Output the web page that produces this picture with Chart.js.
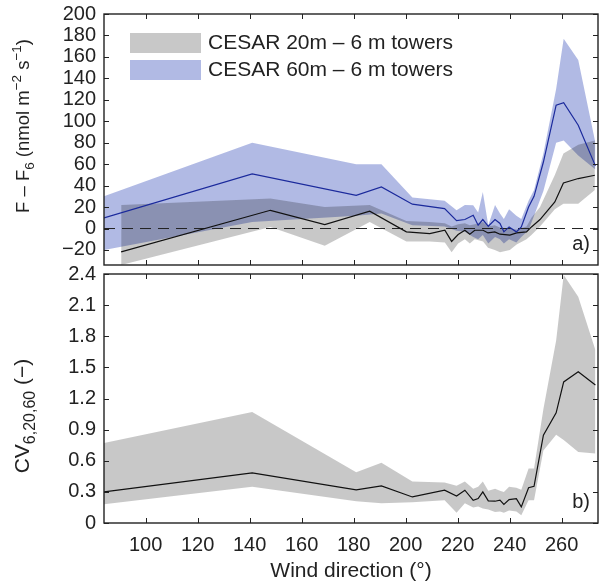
<!DOCTYPE html>
<html><head><meta charset="utf-8">
<script src="https://cdn.jsdelivr.net/npm/chart.js@4.4.0/dist/chart.umd.min.js"></script>
<style>
html,body{margin:0;padding:0;background:#fff;}
#wrap{position:relative;width:600px;height:586px;overflow:hidden;}
#w1{position:absolute;left:0;top:0;width:600px;height:268px;}
#w2{position:absolute;left:0;top:258px;width:600px;height:328px;}
</style></head><body>
<div id="wrap"><div id="w1"><canvas id="c1" width="600" height="268"></canvas></div><div id="w2"><canvas id="c2" width="600" height="328"></canvas></div></div>
<script>
// ---------- data ----------
const xRange = [84, 274];
const xTicks = [100, 120, 140, 160, 180, 200, 220, 240, 260];
const yTicksA = [-20, 0, 20, 40, 60, 80, 100, 120, 140, 160, 180, 200];
const yTicksB = [0, 0.3, 0.6, 0.9, 1.2, 1.5, 1.8, 2.1, 2.4];

// CESAR 20m - 6 m towers (wind direction samples)
const dir20 = [90.6, 148, 168.9, 186.2, 200.3, 209.3, 215.1, 217.7, 220.2, 222.8, 224.7, 226.6, 229.8, 231.7, 234.3, 236.3, 240.1, 242.7, 246.5, 248.4, 251.7, 257.4, 260.7, 266.4, 272.8];
const line20 = [-21.8, 17, 3.7, 16.1, -3.1, -4.7, -1.6, -12, -5.6, -1.6, -5.3, -1.6, -1.6, -4.1, -3.1, -5.3, -6.2, -4.1, -3.1, 1.5, 8.4, 24.8, 42.5, 46.6, 49.7];
const up20 = [22, 28, 20, 22, 7, 6, 5, 2, 4, 5, 3, 4, 6, 2, 3, 1, 0, -1, 2, 10, 20, 50, 70, 78, 82];
const lo20 = [-34, 1.5, -16, 6, -12, -12, -13, -22, -14, -10, -14, -10, -12, -18, -20, -22, -20, -15, -10, -6, 2, 18, 23, 23, 36];

// CESAR 60m - 6 m towers
const dir60 = [84, 141, 181, 190.7, 202.6, 215, 219.6, 222.8, 226, 227.9, 229.7, 231.8, 234.4, 236.3, 237.8, 239.8, 242.6, 244.5, 247.3, 249.4, 253, 257.9, 260.8, 266.4, 273];
const line60 = [10, 51, 31, 38.8, 22.7, 18.6, 7.4, 8.4, 12.4, 3.1, 8.4, 2.1, 8.4, 4.7, -3.1, 1.5, -3.1, 1.5, 20, 30, 62, 115, 117.4, 96.3, 58.4];
const up60 = [30, 80, 60, 60, 29, 26, 17, 22, 21.7, 15, 34, 3, 22, 14, 9, 18, 12, 9, 26, 36, 70, 130, 177, 157, 80];
const lo60 = [-20, 6, 12, 14, 3, 2, -2, -3, -8, -10, -6, -14, -8, -10, -14, -10, -13, -8, -1.6, 12, 35, 80, 82, 68, 55];

// CV 6,20,60
const cvLine = [0.30, 0.483, 0.32, 0.357, 0.251, 0.316, 0.26, 0.316, 0.219, 0.235, 0.30, 0.213, 0.21, 0.22, 0.18, 0.225, 0.235, 0.155, 0.34, 0.354, 0.847, 1.062, 1.36, 1.458, 1.33];
const cvUp = [0.77, 1.07, 0.49, 0.58, 0.40, 0.39, 0.36, 0.40, 0.33, 0.35, 0.40, 0.31, 0.33, 0.31, 0.30, 0.35, 0.34, 0.32, 0.525, 0.525, 1.1, 1.76, 2.39, 2.18, 1.667];
const cvLo = [0.18, 0.35, 0.21, 0.19, 0.20, 0.22, 0.10, 0.19, 0.15, 0.16, 0.14, 0.13, 0.105, 0.11, 0.10, 0.12, 0.11, 0.074, 0.22, 0.22, 0.70, 0.85, 0.80, 0.685, 0.67];

const legendLabels = ['CESAR 20m \u2013 6 m towers', 'CESAR 60m \u2013 6 m towers'];

// ---------- styling ----------
const FONT = "'Liberation Sans', Arial, Helvetica, sans-serif";
const TXT = '#222';
const GRAY_FILL = 'rgba(0,0,0,0.215)';
const BLUE_FILL = 'rgba(70,90,190,0.42)';
const pts = (xs, ys) => xs.map((x, i) => ({x, y: ys[i]}));
const fmt = v => (v < 0 ? '\u2212' + Math.abs(v) : String(v));

function drawRich(ctx, segs, cx, cy) {
  ctx.save();
  ctx.translate(cx, cy);
  ctx.rotate(-Math.PI / 2);
  let total = 0;
  segs.forEach(s => { ctx.font = s.size + 'px ' + FONT; s.w = ctx.measureText(s.t).width; total += s.w; });
  let x = -total / 2;
  ctx.fillStyle = TXT;
  ctx.textBaseline = 'alphabetic';
  ctx.textAlign = 'left';
  segs.forEach(s => { ctx.font = s.size + 'px ' + FONT; ctx.fillText(s.t, x, s.dy); x += s.w; });
  ctx.restore();
}

const framePlugin = {
  id: 'frame',
  afterDatasetsDraw(chart, args, opts) {
    const {ctx, chartArea: a, scales} = chart;
    const xs = scales.x, ys = scales.y;
    ctx.save();
    ctx.strokeStyle = '#222';
    ctx.lineWidth = 1;
    const L = 5;
    ctx.beginPath();
    xTicks.forEach(v => {
      const p = Math.round(xs.getPixelForValue(v)) + 0.5;
      ctx.moveTo(p, a.bottom); ctx.lineTo(p, a.bottom - L);
      ctx.moveTo(p, a.top); ctx.lineTo(p, a.top + L);
    });
    opts.yt.forEach(v => {
      const p = Math.round(ys.getPixelForValue(v)) + 0.5;
      ctx.moveTo(a.left, p); ctx.lineTo(a.left + L, p);
      ctx.moveTo(a.right, p); ctx.lineTo(a.right - L, p);
    });
    ctx.stroke();
    ctx.lineWidth = 1.4;
    ctx.strokeRect(a.left, a.top, a.right - a.left, a.bottom - a.top);
    // panel label
    ctx.fillStyle = TXT;
    ctx.font = '20px ' + FONT;
    ctx.textAlign = 'right';
    ctx.textBaseline = 'middle';
    ctx.fillText(opts.panel, a.right - 8, a.bottom - opts.panelDy);
    // y-axis title
    drawRich(ctx, opts.title, opts.titleX, opts.titleY);
    // legend
    if (opts.legend) {
      const items = [[GRAY_FILL, legendLabels[0]], [BLUE_FILL, legendLabels[1]]];
      items.forEach((it, i) => {
        const y = 33 + i * 27;
        ctx.fillStyle = it[0];
        ctx.fillRect(130, y, 71, 20);
        ctx.fillStyle = TXT;
        ctx.font = '21px ' + FONT;
        ctx.textAlign = 'left';
        ctx.textBaseline = 'middle';
        ctx.fillText(it[1], 208, y + 10.5);
      });
    }
    ctx.restore();
  }
};

function yScale(min, max, ticks, width) {
  return {
    type: 'linear', min, max,
    afterBuildTicks: s => { s.ticks = ticks.map(v => ({value: v})); },
    afterFit: s => { s.width = width; s.paddingTop = 0; s.paddingBottom = 0; },
    grid: {display: false, drawTicks: false},
    border: {display: false},
    ticks: {color: TXT, padding: 8, autoSkip: false, font: {family: FONT, size: 20}, callback: v => fmt(v)}
  };
}

const lineDs = (data, color, order) => ({data, borderColor: color, borderWidth: 1.2, pointRadius: 0, fill: false, tension: 0, order});
const bandUp = (data, color, order) => ({data, borderWidth: 0, borderColor: 'rgba(0,0,0,0)', backgroundColor: color, pointRadius: 0, fill: '+1', tension: 0, order});
const bandLo = (data, order) => ({data, borderWidth: 0, borderColor: 'rgba(0,0,0,0)', pointRadius: 0, fill: false, tension: 0, order});

// ---------- panel a ----------
new Chart(document.getElementById('c1'), {
  type: 'line',
  data: {
    datasets: [
      lineDs(pts(dir60, line60), '#1b2a9c', 0),
      lineDs(pts(dir20, line20), '#111', 1),
      Object.assign(lineDs(pts(xRange, [0, 0]), '#222', 2), {borderDash: [11, 7], borderWidth: 1}),
      bandUp(pts(dir20, up20), GRAY_FILL, 3),
      bandLo(pts(dir20, lo20), 4),
      bandUp(pts(dir60, up60), BLUE_FILL, 5),
      bandLo(pts(dir60, lo60), 6)
    ]
  },
  options: {
    responsive: false, animation: false, devicePixelRatio: 1,
    layout: {padding: {top: 14, right: 2, bottom: 3, left: 0}},
    plugins: {
      legend: {display: false}, tooltip: {enabled: false},
      frame: {
        yt: yTicksA, panel: 'a)', panelDy: 21, legend: true,
        titleX: 29, titleY: 126,
        title: [
          {t: 'F \u2013 F', size: 18.5, dy: 0}, {t: '6', size: 13.5, dy: 5},
          {t: ' (nmol m', size: 18.5, dy: 0}, {t: '\u22122', size: 13.5, dy: -8},
          {t: ' s', size: 18.5, dy: 0}, {t: '\u22121', size: 13.5, dy: -8},
          {t: ')', size: 18.5, dy: 0}
        ]
      }
    },
    scales: {
      x: {type: 'linear', min: xRange[0], max: xRange[1], display: false},
      y: yScale(-34, 200, yTicksA, 104)
    }
  },
  plugins: [framePlugin]
});

// ---------- panel b ----------
new Chart(document.getElementById('c2'), {
  type: 'line',
  data: {
    datasets: [
      lineDs(pts(dir60, cvLine), '#111', 0),
      bandUp(pts(dir60, cvUp), GRAY_FILL, 1),
      bandLo(pts(dir60, cvLo), 2)
    ]
  },
  options: {
    responsive: false, animation: false, devicePixelRatio: 1,
    layout: {padding: {top: 16, right: 2, bottom: 0, left: 0}},
    plugins: {
      legend: {display: false}, tooltip: {enabled: false},
      frame: {
        yt: yTicksB, panel: 'b)', panelDy: 21, legend: false,
        titleX: 29, titleY: 158,
        title: [
          {t: 'CV', size: 21, dy: 0}, {t: '6,20,60', size: 16, dy: 6},
          {t: ' (\u2212)', size: 21, dy: 0}
        ]
      }
    },
    scales: {
      x: {
        type: 'linear', min: xRange[0], max: xRange[1],
        afterBuildTicks: s => { s.ticks = xTicks.map(v => ({value: v})); },
        afterFit: s => { s.height = 63; s.paddingLeft = 0; s.paddingRight = 0; },
        grid: {display: false, drawTicks: false},
        border: {display: false},
        ticks: {color: TXT, padding: 10, maxRotation: 0, autoSkip: false, font: {family: FONT, size: 20}},
        title: {display: true, text: 'Wind direction (\u00b0)', color: TXT, font: {family: FONT, size: 21}, padding: {top: 0, bottom: 2}}
      },
      y: yScale(0, 2.4, yTicksB, 104)
    }
  },
  plugins: [framePlugin]
});
</script>
</body></html>
